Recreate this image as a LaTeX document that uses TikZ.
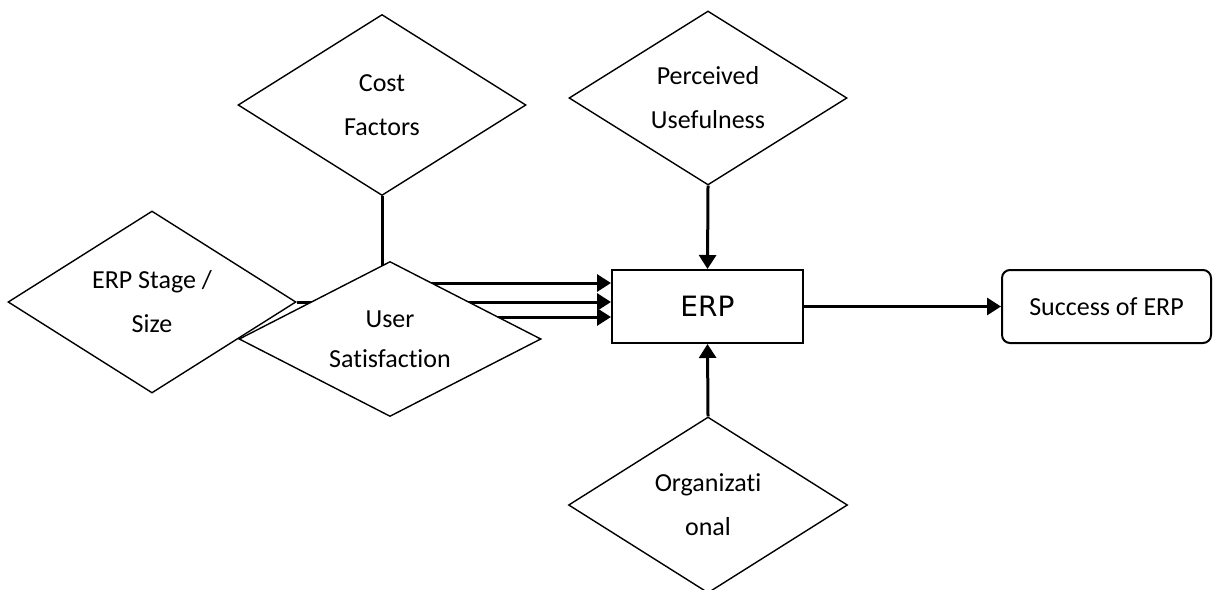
\documentclass[tikz,border=0pt]{standalone}
\usepackage{fontspec}
\setmainfont{Carlito}[Ligatures=NoCommon]
\newfontfamily\erpfont{DejaVu Sans}
\usetikzlibrary{shapes.geometric,arrows.meta,backgrounds}

\tikzset{
  factor/.style={diamond, draw, fill=white, line width=0.7pt, inner sep=0pt,
    aspect=2, align=center, font=\fontsize{13}{22}\selectfont},
  link/.style={line width=1.5pt},
  arr/.style={link, -{Triangle[length=7pt,width=8.5pt]}},
}

\begin{document}
\begin{tikzpicture}[x=0.5pt,y=-0.5pt]
  \useasboundingbox (0,0) rectangle (1213,589);

  % factors
  \node[factor, minimum width=144pt, minimum height=91pt] (stage) at (152,302) {ERP Stage /\\Size};
  \node[factor, minimum width=144pt, minimum height=90.5pt] (cost) at (382,105) {Cost\\Factors};
  \node[factor, minimum width=139pt, minimum height=87pt] (useful) at (708,98) {Perceived\\Usefulness};
  \node[factor, minimum width=151pt, minimum height=77.5pt,
    font=\fontsize{13}{20}\selectfont] (user) at (390,339) {User\\Satisfaction};
  \node[factor, minimum width=139.5pt, minimum height=88pt] (org) at (708,505) {Organizati\\onal};

  % boxes
  \node[draw, line width=1pt, minimum width=95.5pt, minimum height=36.5pt,
    font=\erpfont\fontsize{14}{16}\selectfont] (erp) at (707.5,306.5) {ERP};
  \node[draw, rounded corners=4pt, line width=1pt, minimum width=104.5pt, minimum height=36.5pt,
    font=\fontsize{13}{16}\selectfont] (success) at (1106.5,306.5) {Success of ERP};

  \coordinate (in1) at ([yshift=11.75pt]erp.west);
  \coordinate (in2) at (stage.east -| erp.west);
  \coordinate (in3) at ([yshift=-5.25pt]erp.west);

  % links hidden behind the diamonds
  \begin{pgfonlayer}{background}
    \draw[arr] (cost.south) |- (in1);
    \draw[arr] (stage.east) -- (in2);
    \draw[arr] (in3 -| user.center) -- (in3);
  \end{pgfonlayer}

  \draw[arr] (useful.south) -- (erp.north);
  \draw[arr] (org.north) -- (erp.south);
  \draw[arr] (erp.east) -- (success.west);
\end{tikzpicture}
\end{document}
